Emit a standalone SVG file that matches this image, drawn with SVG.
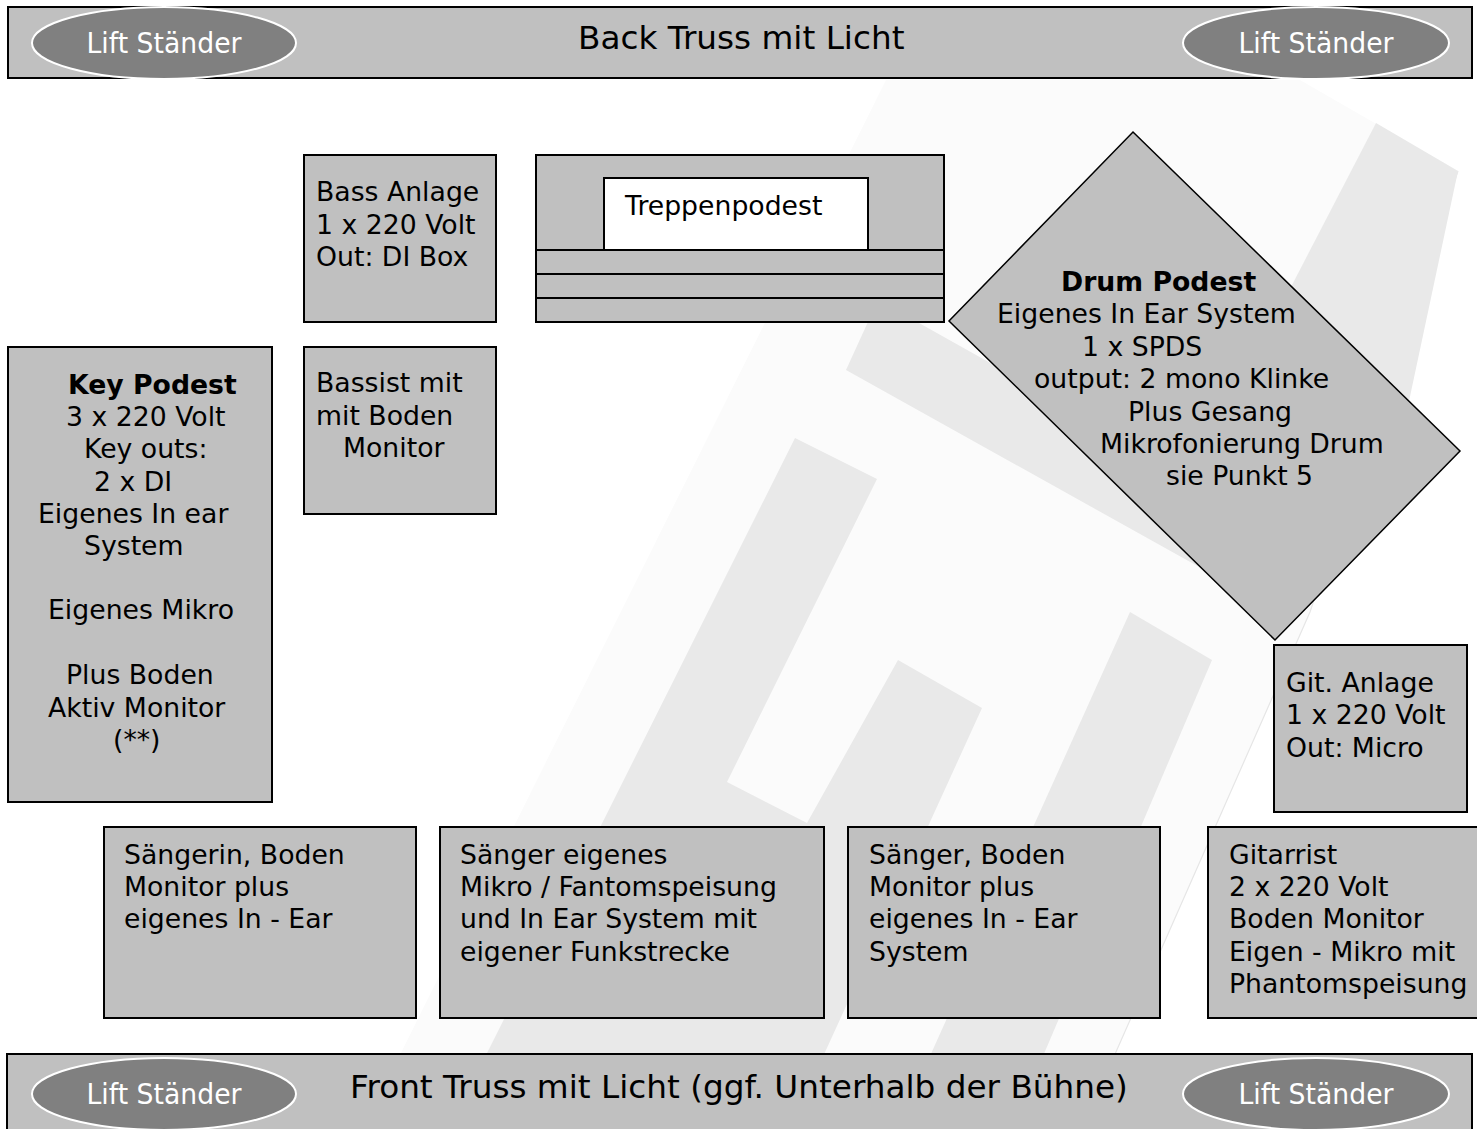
<svg xmlns="http://www.w3.org/2000/svg" width="1477" height="1129" viewBox="0 0 1477 1129">
<style>
.box{fill:#c0c0c0;stroke:#000;stroke-width:2}
.lift{fill:#808080;stroke:#fff;stroke-width:2}
.t{font-family:"DejaVu Sans",Verdana,sans-serif;font-size:26.7px;fill:#000}
.b{font-weight:bold}
.ttl{font-family:"DejaVu Sans",Verdana,sans-serif;font-size:32.7px;fill:#000}
.lt{font-family:"DejaVu Sans",Verdana,sans-serif;font-size:29px;fill:#fff;text-anchor:middle}
.wm{fill:#e9e9e9}
</style>
<rect width="1477" height="1129" fill="#fff"/>
<g id="watermark">
<polygon points="886,80 1300,80 1458,171 1310,612 1082,1129 363,1129" fill="#fbfbfb"/>
<polyline points="1458,171 1310,612 1082,1129" fill="none" stroke="#e6e6e6" stroke-width="1.2"/>
<polygon class="wm" points="1376,123 1458,171 1405,420 1222,420"/>
<polygon class="wm" points="846,370 878,300 1240,503 1201,568"/>
<polygon class="wm" points="795,438 877,479 727,782 807,823 898,660 982,708 790,1129 449,1129"/>
<polygon class="wm" points="1130,612 1212,660 1020,1110 930,1056"/>
</g>
<g id="back-truss">
<rect class="box" x="8" y="7" width="1464" height="71"/>
<text class="ttl" x="578" y="49">Back Truss mit Licht</text>
</g>
<g id="lift-back-left">
<ellipse class="lift" cx="164" cy="43" rx="132" ry="36"/>
<text class="lt" x="164" y="53" textLength="155" lengthAdjust="spacingAndGlyphs">Lift Ständer</text>
</g>
<g id="lift-back-right">
<ellipse class="lift" cx="1316" cy="43" rx="133" ry="36"/>
<text class="lt" x="1316" y="53" textLength="155" lengthAdjust="spacingAndGlyphs">Lift Ständer</text>
</g>
<g id="bass-anlage">
<rect class="box" x="304" y="155" width="192" height="167"/>
<text class="t"><tspan x="316" y="201">Bass Anlage</tspan><tspan x="316" y="234">1 x 220 Volt</tspan><tspan x="316" y="266">Out: DI Box</tspan></text>
</g>
<g id="treppenpodest">
<rect class="box" x="536" y="155" width="408" height="167"/>
<rect x="604" y="178" width="264" height="72" fill="#fff" stroke="#000" stroke-width="2"/>
<line x1="536" y1="250" x2="944" y2="250" stroke="#000" stroke-width="2"/>
<line x1="536" y1="274" x2="944" y2="274" stroke="#000" stroke-width="2"/>
<line x1="536" y1="298" x2="944" y2="298" stroke="#000" stroke-width="2"/>
<text class="t" x="625" y="215">Treppenpodest</text>
</g>
<g id="drum-podest">
<polygon points="1133,132 1460,451 1275,640 949,321" fill="#c0c0c0" stroke="#000" stroke-width="1.5"/>
<text class="t"><tspan class="b" x="1061" y="291">Drum Podest</tspan><tspan x="997" y="323">Eigenes In Ear System</tspan><tspan x="1082" y="356">1 x SPDS</tspan><tspan x="1034" y="388">output: 2 mono Klinke</tspan><tspan x="1128" y="421">Plus Gesang</tspan><tspan x="1100" y="453">Mikrofonierung Drum</tspan><tspan x="1166" y="485">sie Punkt 5</tspan></text>
</g>
<g id="key-podest">
<rect class="box" x="8" y="347" width="264" height="455"/>
<text class="t"><tspan class="b" x="68" y="394">Key Podest</tspan><tspan x="66" y="426">3 x 220 Volt</tspan><tspan x="84" y="458">Key outs:</tspan><tspan x="94" y="491">2 x DI</tspan><tspan x="38" y="523">Eigenes In ear</tspan><tspan x="84" y="555">System</tspan><tspan x="48" y="619">Eigenes Mikro</tspan><tspan x="66" y="684">Plus Boden</tspan><tspan x="48" y="717">Aktiv Monitor</tspan><tspan x="113" y="749">(**)</tspan></text>
</g>
<g id="bassist">
<rect class="box" x="304" y="347" width="192" height="167"/>
<text class="t"><tspan x="316" y="392">Bassist mit</tspan><tspan x="316" y="425">mit Boden</tspan><tspan x="343" y="457">Monitor</tspan></text>
</g>
<g id="git-anlage">
<rect class="box" x="1274" y="645" width="193" height="167"/>
<text class="t"><tspan x="1286" y="692">Git. Anlage</tspan><tspan x="1286" y="724">1 x 220 Volt</tspan><tspan x="1286" y="757">Out: Micro</tspan></text>
</g>
<g id="saengerin">
<rect class="box" x="104" y="827" width="312" height="191"/>
<text class="t"><tspan x="124" y="864">Sängerin, Boden</tspan><tspan x="124" y="896">Monitor plus</tspan><tspan x="124" y="928">eigenes In - Ear</tspan></text>
</g>
<g id="saenger-mitte">
<rect class="box" x="440" y="827" width="384" height="191"/>
<text class="t"><tspan x="460" y="864">Sänger eigenes</tspan><tspan x="460" y="896">Mikro / Fantomspeisung</tspan><tspan x="460" y="928">und In Ear System mit</tspan><tspan x="460" y="961">eigener Funkstrecke</tspan></text>
</g>
<g id="saenger-rechts">
<rect class="box" x="848" y="827" width="312" height="191"/>
<text class="t"><tspan x="869" y="864">Sänger, Boden</tspan><tspan x="869" y="896">Monitor plus</tspan><tspan x="869" y="928">eigenes In - Ear</tspan><tspan x="869" y="961">System</tspan></text>
</g>
<g id="gitarrist">
<rect class="box" x="1208" y="827" width="275" height="191"/>
<text class="t"><tspan x="1229" y="864">Gitarrist</tspan><tspan x="1229" y="896">2 x 220 Volt</tspan><tspan x="1229" y="928">Boden Monitor</tspan><tspan x="1229" y="961">Eigen - Mikro mit</tspan><tspan x="1229" y="993">Phantomspeisung</tspan></text>
</g>
<g id="front-truss">
<rect class="box" x="7" y="1054" width="1465" height="90"/>
<text class="ttl" x="350" y="1098">Front Truss mit Licht (ggf. Unterhalb der Bühne)</text>
</g>
<g id="lift-front-left">
<ellipse class="lift" cx="164" cy="1094" rx="132" ry="36"/>
<text class="lt" x="164" y="1104" textLength="155" lengthAdjust="spacingAndGlyphs">Lift Ständer</text>
</g>
<g id="lift-front-right">
<ellipse class="lift" cx="1316" cy="1094" rx="133" ry="36"/>
<text class="lt" x="1316" y="1104" textLength="155" lengthAdjust="spacingAndGlyphs">Lift Ständer</text>
</g>
<g id="connectors"/>
</svg>
